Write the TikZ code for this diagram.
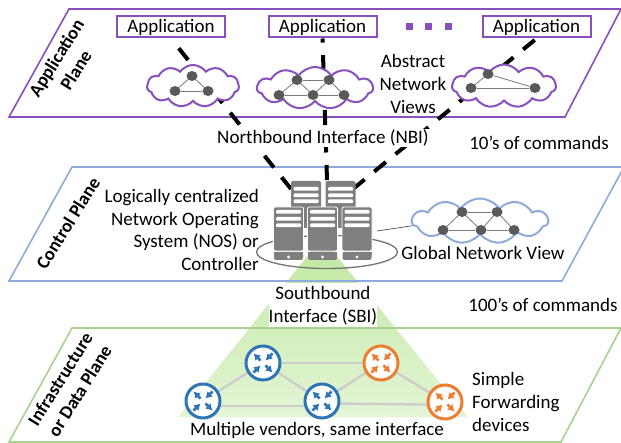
\documentclass[tikz,border=0pt]{standalone}
\usepackage{fontspec}
\setmainfont{Carlito}
\usetikzlibrary{shapes.symbols,shapes.geometric,arrows.meta,backgrounds}
\definecolor{appline}{HTML}{8A4FBF}
\definecolor{ctlline}{HTML}{8FAADC}
\definecolor{dataline}{HTML}{A9D18E}
\definecolor{routerblue}{HTML}{2E75B6}
\definecolor{routerorange}{HTML}{ED7D31}
\definecolor{servergray}{HTML}{7F7F7F}
\definecolor{dotgray}{HTML}{595959}
\definecolor{fantop}{HTML}{BFE8A0}
\definecolor{fanbottom}{HTML}{E4F5D6}
\tikzset{
    plane/.style={line width=1.6pt,fill=none},
    planelabel/.style={font=\fontsize{18.5}{23}\selectfont\bfseries,rotate=58,align=center},
    appbox/.style={draw=appline,line width=2pt,fill=white,minimum width=108pt,minimum height=21pt,inner sep=0pt},
    netcloud/.style={cloud,cloud puffs=11,cloud puff arc=110,draw=#1,line width=2pt,fill=white,inner sep=0pt},
    netdot/.style={ellipse,fill=dotgray,inner sep=0pt,minimum width=11pt,minimum height=10pt},
    netedge/.style={draw=dotgray!80,line width=.8pt},
    dashlink/.style={line width=4pt,dash pattern=on 15pt off 12.5pt},
    router/.style={circle,draw=#1,fill=white,line width=3pt,minimum size=34pt,inner sep=0pt},
    routerlink/.style={draw=black!20,line width=2.4pt},
    serverfront/.pic={
        \fill [servergray,draw=white,line width=.8pt,rounded corners=2pt] (-15,0) rectangle (15,44);
        \foreach \by in {3,10,16.5}
            \fill [white,rounded corners=1pt] (-12.5,\by) rectangle (12.5,\by+3.6);
        \fill [servergray,rounded corners=2pt] (-14.5,45) rectangle (14.5,53);
        \fill [servergray] (-14.5,45) rectangle (14.5,48);
        \fill [white] (0,50) circle (1.6);
    },
    serverback/.pic={
        \fill [servergray,rounded corners=2pt] (-15,0) rectangle (15,47);
        \foreach \by in {6,12.5,18.5}
            \fill [white,rounded corners=1pt] (-12.5,\by) rectangle (12.5,\by+3.6);
    },
}
\begin{document}
\begin{tikzpicture}[x=1pt,y=-1pt,>=latex,font=\fontsize{19}{22.8}\selectfont]
    \useasboundingbox (0,0) rectangle (621,443);

    \node [appbox] (appA) at (171,27) {Application};
    \node [appbox] (appB) at (322.5,27) {Application};
    \node [appbox] (appC) at (536.5,27) {Application};
    \foreach \px in {409,428,448}
        \fill [appline] (\px-3.5,23.5) rectangle (\px+3.5,30.5);

    \coordinate (portA) at (291,189);
    \coordinate (portB) at (327,180);
    \coordinate (portC) at (353,189);
    \coordinate (portD) at (377,231);
    \begin{scope}[on background layer]
        \shade [top color=fantop,bottom color=fanbottom,shading angle=0]
            (322,238) -- (178,417) -- (468,417) -- cycle;
        \draw [plane,draw=appline] (69,9) -- (621,9) -- (565,117) -- (9,117) -- cycle;
        \draw [plane,draw=ctlline] (72,167) -- (624,167) -- (562,281) -- (9,281) -- cycle;
        \draw [plane,draw=dataline] (72,328) -- (621,328) -- (561,442) -- (9,442) -- cycle;
        \draw [dashlink] (portA) -- (appA.south);
        \draw [dashlink] (portB) -- (appB.south);
        \draw [dashlink] (portC) -- (appC.south);
    \end{scope}

    \node [netcloud=appline,minimum width=92pt,minimum height=42pt] (cloudA) at (193,86) {};
    \node [netcloud=appline,minimum width=116pt,minimum height=42pt] (cloudB) at (315,88) {};
    \node [netcloud=appline,minimum width=104pt,minimum height=43pt] (cloudC) at (504,86) {};
    \node [netcloud=ctlline,minimum width=136pt,minimum height=45pt] (cloudD) at (480,221) {};
    \draw [black!70,line width=.7pt] (portD) -- (cloudD.184);

    \foreach \nm/\px/\py in {a1/192/76,a2/175/91,a3/208/91,
        b1/297/80,b2/329/80,b3/279/95,b4/313/95,b5/344/95,
        c1/488/74,c2/471/88,c3/535/88,
        d1/462/212,d2/497/212,d3/443/230,d4/481/230,d5/514/230}
        \node [netdot] (\nm) at (\px,\py) {};
    \foreach \fm/\tm in {a1/a2,a1/a3,a2/a3,
        b1/b2,b1/b3,b1/b4,b2/b4,b2/b5,b3/b4,b4/b5,
        c1/c2,c1/c3,c2/c3,
        d1/d2,d1/d3,d1/d4,d2/d4,d2/d5,d3/d4,d4/d5}
        \draw [netedge] (\fm) -- (\tm);

    \node [draw=black!55,line width=1.3pt,ellipse,minimum width=141pt,minimum height=33pt,inner sep=0pt] (ringNOS) at (327,252) {};
    \pic at (306,181) {serverback};
    \pic at (340.5,181) {serverback};
    \pic at (288.5,207) {serverfront};
    \pic at (322.5,207) {serverfront};
    \pic at (357,207) {serverfront};

    \node [planelabel] (labelApp) at (66,64) {Application\\Plane};
    \node [planelabel] (labelCtl) at (68,223) {Control Plane};
    \node [planelabel] (labelData) at (70,385) {Infrastructure\\or Data Plane};

    \node [align=center] (viewsText) at (413,84) {Abstract\\Network\\Views};
    \node [fill=white,inner xsep=3pt,inner ysep=1pt] (nbiText) at (323,138) {Northbound Interface (NBI)};
    \node (cmdTen) at (539,143) {10’s of commands};
    \node (cmdHundred) at (543,305) {100’s of commands};
    \node [align=right,anchor=east,inner sep=0pt] (nosText) at (259,230) {Logically centralized\\Network Operating\\System (NOS) or\\Controller};
    \node (globalText) at (483,253) {Global Network View};
    \node [align=center,fill=white,inner xsep=0pt,inner ysep=0pt,minimum height=44pt,minimum width=108pt] (sbiText) at (323,305.5) {Southbound\\Interface (SBI)};
    \node (vendorText) at (317,430) {Multiple vendors, same interface};
    \node [align=left,anchor=west,inner sep=0pt] (simpleText) at (472,402) {Simple\\Forwarding\\devices};

    \foreach \rt/\cl/\px/\py in {r1/routerblue/203/401,r2/routerblue/263/363,r3/routerblue/322/401,
        r4/routerorange/381/363,r5/routerorange/445/402} {
        \node [router=\cl] (\rt) at (\px,\py) {};
        \foreach \ang/\ra/\rb in {45/3.5/13.5,225/3.5/13.5,135/13.5/3.5,-45/13.5/3.5}
            \draw [\cl,line width=2.6pt,-{Latex[length=6.5pt,width=8pt]},shift={(\px,\py)}] (\ang:\ra) -- (\ang:\rb);
    }
    \begin{scope}[on background layer]
        \draw [routerlink] (r1) -- (r2);
        \draw [routerlink] (r2) -- (r3);
        \draw [routerlink] (r2) -- (r4);
        \draw [routerlink] (r3) -- (r4);
        \draw [routerlink] (r4) -- (r5);
        \draw [routerlink] (r1.-15) -- (r3.195);
        \draw [routerlink] (r3.-8) -- (r5.188);
    \end{scope}
\end{tikzpicture}
\end{document}
